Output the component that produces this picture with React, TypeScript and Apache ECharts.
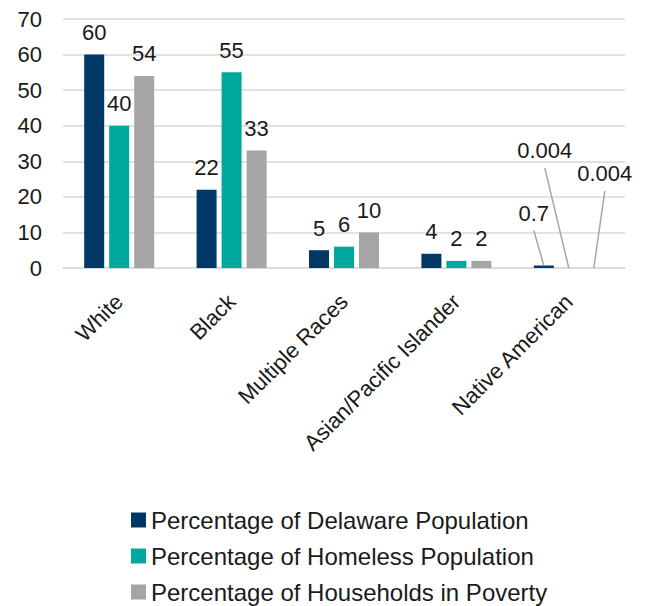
import React, { useEffect, useRef } from "react";
import * as echarts from "echarts";

const categories = ["White", "Black", "Multiple Races", "Asian/Pacific Islander", "Native American"];
const delawarePop = [60, 22, 5, 4, 0.7];
const homelessPop = [40, 55, 6, 2, 0.004];
const povertyHouseholds = [54, 33, 10, 2, 0.004];

const seriesNames = [
  "Percentage of Delaware Population",
  "Percentage of Homeless Population",
  "Percentage of Households in Poverty",
];
const colors = ["#003865", "#00a99d", "#a5a5a5"];

const FONT = "Liberation Sans, Arial, sans-serif";
const TEXT = "#1a1a1a";
const BAR_WIDTH = 20;
const BAR_GAP = 5;

// Native American values are too small for a label on top of the bar;
// their labels are lifted clear and tied back with a leader line.
// [line end dx, line end dy] relative to the bar's top centre.
const calloutOffsets: [number, number][] = [
  [-10, -35],
  [-24, -100],
  [11, -77],
];

export default function App() {
  const ref = useRef<HTMLDivElement>(null);

  useEffect(() => {
    if (!ref.current) return;
    const chart = echarts.init(ref.current, undefined, { renderer: "svg" });
    const lastIdx = categories.length - 1;
    const data = [delawarePop, homelessPop, povertyHouseholds];

    const calloutData = data.map((arr, si) => [lastIdx, arr[lastIdx], si]);

    chart.setOption({
      animation: false,
      textStyle: { fontFamily: FONT },
      grid: { left: 63, right: 22, top: 19, bottom: 338, containLabel: false },
      legend: {
        orient: "vertical",
        left: 131,
        top: 508,
        padding: 0,
        height: 98,
        itemWidth: 15,
        itemHeight: 15,
        itemGap: 12,
        icon: "rect",
        textStyle: { fontSize: 24, color: TEXT, fontFamily: FONT },
        data: seriesNames,
      },
      xAxis: {
        type: "category",
        data: categories,
        axisLine: { lineStyle: { color: "#d9d9d9", width: 1.5 } },
        axisTick: { show: false },
        axisLabel: {
          rotate: 45,
          interval: 0,
          margin: 30,
          fontSize: 22,
          color: TEXT,
          fontFamily: FONT,
        },
      },
      yAxis: {
        type: "value",
        min: 0,
        max: 70,
        interval: 10,
        axisLine: { show: false },
        axisTick: { show: false },
        splitLine: { lineStyle: { color: "#d9d9d9", width: 1.5 } },
        axisLabel: { fontSize: 22, color: TEXT, margin: 21, fontFamily: FONT },
      },
      series: [
        ...seriesNames.map((name, si) => ({
          name,
          type: "bar",
          barWidth: BAR_WIDTH,
          barGap: `${(BAR_GAP / BAR_WIDTH) * 100}%`,
          itemStyle: { color: colors[si] },
          data: data[si].map((v, i) =>
            i === lastIdx ? { value: v, label: { show: false } } : v
          ),
          label: {
            show: true,
            position: "top",
            distance: 11,
            fontSize: 22,
            color: TEXT,
            fontFamily: FONT,
          },
        })),
        {
          type: "custom",
          name: "callouts",
          z: 5,
          silent: true,
          data: calloutData,
          renderItem: (params: any, api: any) => {
            const cat = api.value(0);
            const val = api.value(1);
            const si = api.value(2);
            const top = api.coord([cat, val]);
            const x0 = top[0] + (si - 1) * (BAR_WIDTH + BAR_GAP);
            const y0 = top[1];
            const [dx, dy] = calloutOffsets[si];
            const x1 = x0 + dx;
            const y1 = y0 + dy;
            return {
              type: "group",
              children: [
                {
                  type: "line",
                  shape: { x1: x0, y1: y0, x2: x1, y2: y1 },
                  style: { stroke: "#a6a6a6", lineWidth: 1.5 },
                },
                {
                  type: "text",
                  x: x1,
                  y: y1 - 6,
                  style: {
                    text: String(val),
                    textAlign: "center",
                    textVerticalAlign: "bottom",
                    fontSize: 22,
                    fontFamily: FONT,
                    fill: TEXT,
                  },
                },
              ],
            };
          },
        },
      ],
    });

    return () => chart.dispose();
  }, []);

  return (
    <div
      ref={ref}
      style={{ position: "absolute", left: 0, top: 0, width: 647, height: 606 }}
    />
  );
}
